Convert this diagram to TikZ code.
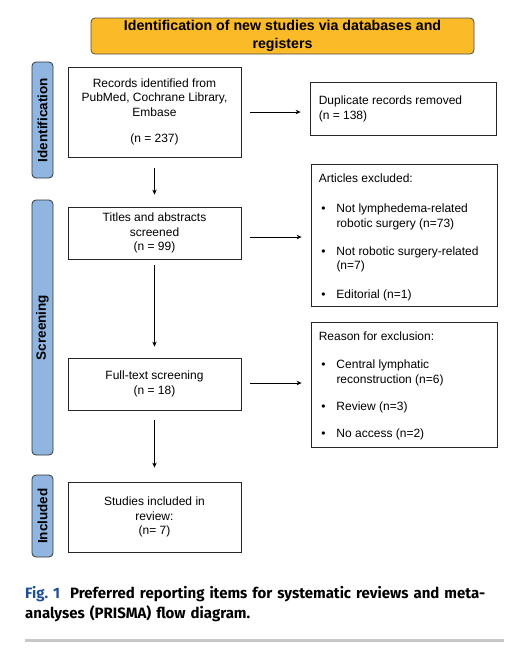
\documentclass[tikz,border=0pt]{standalone}
\usepackage{fontspec}
\setmainfont{Liberation Sans}
\newfontfamily\capfont{Fira Sans}
\usetikzlibrary{arrows.meta,calc}
\definecolor{bannerorange}{HTML}{FBBA28}
\definecolor{sideblue}{HTML}{8FB5E0}
\definecolor{capblue}{HTML}{1F4E96}
\definecolor{rulegray}{HTML}{C8C8C8}
\begin{document}
\begin{tikzpicture}[x=1pt,y=-1pt,
  box/.style={draw=black!85,line width=0.8pt,fill=white,minimum width=173pt,inner sep=3pt,align=center,font=\fontsize{12}{14.5}\selectfont},
  exbox/.style={draw=black!85,line width=0.8pt,fill=white,minimum width=186pt,inner sep=0pt},
  extext/.style={anchor=north west,align=left,inner sep=0pt,font=\fontsize{12}{14.2}\selectfont},
  side/.style={draw=black!80,line width=0.8pt,fill=sideblue,rounded corners=4pt,minimum width=21pt,inner sep=0pt},
  sidetext/.style={rotate=90,font=\fontsize{13.5}{15}\selectfont\bfseries},
  arr/.style={-{Stealth[length=5pt,width=4.5pt]},line width=0.7pt}
]
\useasboundingbox (0,0) rectangle (518,657);
% banner
\node[draw=black!70,line width=0.8pt,fill=bannerorange,rounded corners=4pt,minimum width=383pt,minimum height=36pt,align=center,inner sep=0pt,font=\fontsize{14.2}{18}\selectfont\bfseries] (ban) at (282.5,36) {Identification of new studies via databases and\\registers};
% side bars
\node[side,minimum height=116pt] (sid) at (42.5,120) {};
\node[sidetext] at (sid.center) {Identification};
\node[side,minimum height=255pt] (sscr) at (42.5,327.5) {};
\node[sidetext] at (sscr.center) {Screening};
\node[side,minimum height=82pt] (sinc) at (42.5,516) {};
\node[sidetext] at (sinc.center) {Included};
% main boxes
\node[box,minimum height=90pt] (rec) at (154.5,112) {Records identified from\\PubMed, Cochrane Library,\\Embase\\[12pt](n = 237)};
\node[box,minimum height=52pt] (tit) at (154.5,233) {Titles and abstracts\\screened\\(n = 99)};
\node[box,minimum height=52pt] (ful) at (154.5,384) {Full-text screening\\(n = 18)};
\node[box,minimum height=70pt] (stu) at (154.5,517) {Studies included in\\review:\\(n= 7)};
% right boxes
\node[exbox,minimum height=53pt] (dup) at (403,108.5) {};
\node[anchor=west,align=left,inner sep=0pt,font=\fontsize{12}{15}\selectfont] at ($(dup.west)+(9,0)$) {Duplicate records removed\\(n = 138)};
\node[exbox,minimum height=142pt] (art) at (404,235) {};
\node[extext] at ($(art.north west)+(8,9)$) {%
\begin{tabular}{@{}l@{\hspace{11pt}}l@{}}
\multicolumn{2}{@{}l@{}}{Articles excluded:}\\[16pt]
\hspace{2.5pt}\textbullet & Not lymphedema-related\\
 & robotic surgery (n=73)\\[14pt]
\hspace{2.5pt}\textbullet & Not robotic surgery-related\\
 & (n=7)\\[15pt]
\hspace{2.5pt}\textbullet & Editorial (n=1)
\end{tabular}};
\node[exbox,minimum height=125pt] (rea) at (404,384.5) {};
\node[extext] at ($(rea.north west)+(8,9)$) {%
\begin{tabular}{@{}l@{\hspace{11pt}}l@{}}
\multicolumn{2}{@{}l@{}}{Reason for exclusion:}\\[14pt]
\hspace{2.5pt}\textbullet & Central lymphatic\\
 & reconstruction (n=6)\\[13pt]
\hspace{2.5pt}\textbullet & Review (n=3)\\[13pt]
\hspace{2.5pt}\textbullet & No access (n=2)
\end{tabular}};
% arrows
\draw[arr,shorten <=9pt,shorten >=9pt] (rec.east) -- (rec.east -| dup.west);
\draw[arr,shorten <=9pt,shorten >=9pt] ($(tit.east)+(0,4)$) -- ($(tit.east -| art.west)+(0,4)$);
\draw[arr,shorten <=9pt,shorten >=9pt] ($(ful.east)+(0,-1)$) -- ($(ful.east -| rea.west)+(0,-1)$);
\draw[arr,shorten <=11pt,shorten >=12pt] (rec.south) -- (tit.north);
\draw[arr,shorten <=6pt,shorten >=11pt] (tit.south) -- (ful.north);
\draw[arr,shorten <=10pt,shorten >=14pt] (ful.south) -- (stu.north);
% caption
\node[anchor=north west,align=left,inner sep=0pt,text width=485pt,font=\capfont\fontsize{15}{20}\selectfont] (cap) at (25,586) {{\color{capblue}\bfseries Fig.~1}\hspace{10pt}\textbf{Preferred reporting items for systematic reviews and meta-}\\\textbf{analyses (PRISMA) flow diagram.}};
\fill[rulegray] (25,638.5) rectangle (504,642);
\end{tikzpicture}
\end{document}
